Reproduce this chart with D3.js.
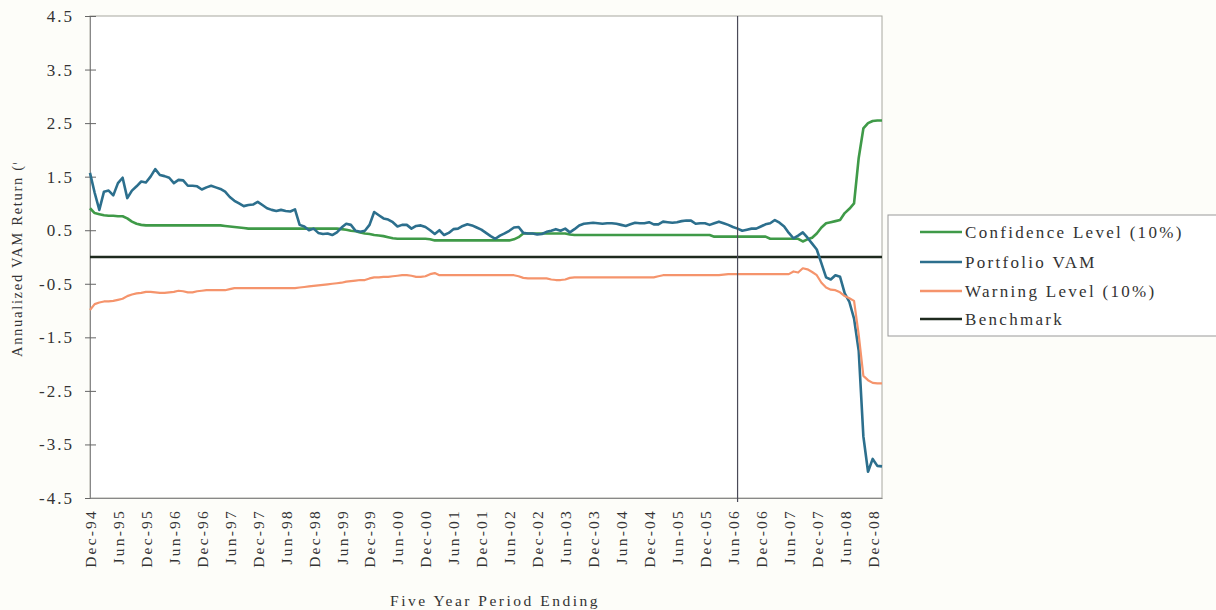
<!DOCTYPE html>
<head>
  <meta charset="utf-8">
  <script src="https://cdn.jsdelivr.net/npm/d3@7"></script>
  <style>
    body { margin: 0; background: #fdfdf9; }
    text { font-family: "Liberation Serif", "Times New Roman", serif; fill: #333; }
  </style>
</head>
<body>
  <div id="chartDiv"></div>
  <script>

  // monthly points, Dec-94 .. Feb-09
  var monthFmt = d3.timeFormat("%b-%y");
  var categories = d3.timeMonth.range(new Date(1994, 11, 1), new Date(2009, 2, 1)).map(monthFmt);

  var xTickLabels = ["Dec-94","Jun-95","Dec-95","Jun-96","Dec-96","Jun-97","Dec-97","Jun-98",
    "Dec-98","Jun-99","Dec-99","Jun-00","Dec-00","Jun-01","Dec-01","Jun-02","Dec-02","Jun-03",
    "Dec-03","Jun-04","Dec-04","Jun-05","Dec-05","Jun-06","Dec-06","Jun-07","Dec-07","Jun-08","Dec-08"];

  var yTickValues = [4.5, 3.5, 2.5, 1.5, 0.5, -0.5, -1.5, -2.5, -3.5, -4.5];

  var seriesNames = ["Confidence Level (10%)", "Portfolio VAM", "Warning Level (10%)", "Benchmark"];

  var confidenceLevel = [
    0.91, 0.82, 0.80, 0.78, 0.77, 0.77, 0.76, 0.76, 0.72, 0.66,
    0.62, 0.60, 0.59, 0.59, 0.59, 0.59, 0.59, 0.59, 0.59, 0.59,
    0.59, 0.59, 0.59, 0.59, 0.59, 0.59, 0.59, 0.59, 0.59, 0.58,
    0.57, 0.56, 0.55, 0.54, 0.53, 0.53, 0.53, 0.53, 0.53, 0.53,
    0.53, 0.53, 0.53, 0.53, 0.53, 0.53, 0.53, 0.53, 0.53, 0.53,
    0.53, 0.53, 0.53, 0.53, 0.52, 0.51, 0.49, 0.48, 0.46, 0.44,
    0.43, 0.41, 0.40, 0.39, 0.37, 0.35, 0.34, 0.34, 0.34, 0.34,
    0.34, 0.34, 0.34, 0.33, 0.31, 0.31, 0.31, 0.31, 0.31, 0.31,
    0.31, 0.31, 0.31, 0.31, 0.31, 0.31, 0.31, 0.31, 0.31, 0.31,
    0.31, 0.33, 0.37, 0.44, 0.44, 0.44, 0.44, 0.44, 0.44, 0.44,
    0.44, 0.44, 0.44, 0.42, 0.41, 0.41, 0.41, 0.41, 0.41, 0.41,
    0.41, 0.41, 0.41, 0.41, 0.41, 0.41, 0.41, 0.41, 0.41, 0.41,
    0.41, 0.41, 0.41, 0.41, 0.41, 0.41, 0.41, 0.41, 0.41, 0.41,
    0.41, 0.41, 0.41, 0.41, 0.38, 0.38, 0.38, 0.38, 0.38, 0.38,
    0.38, 0.38, 0.38, 0.38, 0.38, 0.38, 0.34, 0.34, 0.34, 0.34,
    0.34, 0.34, 0.34, 0.29, 0.33, 0.36, 0.44, 0.55, 0.63, 0.65,
    0.67, 0.69, 0.82, 0.90, 1.00, 1.85, 2.40, 2.50, 2.54, 2.55,
    2.55
  ];

  var portfolioVam = [
    1.57, 1.20, 0.88, 1.22, 1.24, 1.15, 1.38, 1.48, 1.10, 1.24,
    1.32, 1.41, 1.39, 1.50, 1.64, 1.53, 1.51, 1.48, 1.38, 1.44,
    1.43, 1.33, 1.33, 1.32, 1.26, 1.30, 1.33, 1.30, 1.27, 1.22,
    1.12, 1.05, 1.00, 0.95, 0.97, 0.98, 1.03, 0.97, 0.91, 0.88,
    0.86, 0.88, 0.86, 0.85, 0.89, 0.60, 0.57, 0.50, 0.53, 0.45,
    0.43, 0.44, 0.41, 0.46, 0.55, 0.62, 0.60, 0.49, 0.47, 0.49,
    0.60, 0.84, 0.78, 0.72, 0.70, 0.65, 0.57, 0.60, 0.60, 0.53,
    0.58, 0.59, 0.56, 0.50, 0.43, 0.50, 0.41, 0.45, 0.52, 0.53,
    0.58, 0.61, 0.59, 0.55, 0.51, 0.45, 0.39, 0.34, 0.40, 0.44,
    0.49, 0.55, 0.56, 0.45, 0.44, 0.44, 0.42, 0.43, 0.47, 0.49,
    0.52, 0.49, 0.53, 0.46, 0.52, 0.59, 0.62, 0.63, 0.64, 0.63,
    0.62, 0.63, 0.63, 0.62, 0.60, 0.58, 0.61, 0.64, 0.63, 0.63,
    0.65, 0.61, 0.61, 0.66, 0.65, 0.64, 0.65, 0.67, 0.68, 0.68,
    0.62, 0.63, 0.63, 0.60, 0.63, 0.66, 0.63, 0.60, 0.56, 0.53,
    0.49, 0.51, 0.53, 0.53, 0.57, 0.61, 0.63, 0.69, 0.64, 0.57,
    0.45, 0.35, 0.40, 0.46, 0.36, 0.25, 0.14, -0.12, -0.38, -0.42,
    -0.34, -0.37, -0.68, -0.84, -1.15, -1.75, -3.35, -4.01, -3.77, -3.90,
    -3.91
  ];

  var warningLevel = [
    -0.99, -0.88, -0.85, -0.83, -0.83, -0.82, -0.80, -0.78, -0.73, -0.70,
    -0.68, -0.67, -0.65, -0.65, -0.66, -0.67, -0.67, -0.66, -0.65, -0.63,
    -0.64, -0.66, -0.66, -0.64, -0.63, -0.62, -0.62, -0.62, -0.62, -0.62,
    -0.60, -0.58, -0.58, -0.58, -0.58, -0.58, -0.58, -0.58, -0.58, -0.58,
    -0.58, -0.58, -0.58, -0.58, -0.58, -0.57, -0.56, -0.55, -0.54, -0.53,
    -0.52, -0.51, -0.50, -0.49, -0.48, -0.46, -0.45, -0.44, -0.43, -0.43,
    -0.40, -0.38, -0.38, -0.37, -0.37, -0.36, -0.35, -0.34, -0.34, -0.35,
    -0.37, -0.37, -0.36, -0.32, -0.30, -0.34, -0.34, -0.34, -0.34, -0.34,
    -0.34, -0.34, -0.34, -0.34, -0.34, -0.34, -0.34, -0.34, -0.34, -0.34,
    -0.34, -0.34, -0.36, -0.39, -0.40, -0.40, -0.40, -0.40, -0.40, -0.42,
    -0.43, -0.43, -0.42, -0.39, -0.38, -0.38, -0.38, -0.38, -0.38, -0.38,
    -0.38, -0.38, -0.38, -0.38, -0.38, -0.38, -0.38, -0.38, -0.38, -0.38,
    -0.38, -0.38, -0.36, -0.34, -0.34, -0.34, -0.34, -0.34, -0.34, -0.34,
    -0.34, -0.34, -0.34, -0.34, -0.34, -0.34, -0.33, -0.32, -0.32, -0.32,
    -0.32, -0.32, -0.32, -0.32, -0.32, -0.32, -0.32, -0.32, -0.32, -0.32,
    -0.32, -0.27, -0.29, -0.21, -0.23, -0.28, -0.34, -0.48, -0.57, -0.61,
    -0.62, -0.66, -0.73, -0.77, -0.82, -1.45, -2.22, -2.30, -2.35, -2.36,
    -2.36
  ];

  var benchmarkLevel = 0;
  var markerMonth = "Jul-06";

  var colors = ["#3f9a48", "#2c6f8d", "#f5946c", "#1e2a1e"];

  var width = 1216;
  var height = 610;

  var svg = d3.select("#chartDiv").append("svg")
    .attr("width", width)
    .attr("height", height);

  var x = d3.scalePoint()
    .domain(categories)
    .range([90, 882]);

  var y = d3.scaleLinear()
    .domain([-4.5, 4.5])
    .range([498, 16]);

  // plot frame
  svg.append("rect")
    .attr("x", 90)
    .attr("y", 16)
    .attr("width", 792)
    .attr("height", 482)
    .style("fill", "white")
    .style("stroke", "#a8a8a0")
    .style("stroke-width", 1);

  // y axis
  var yAxis = svg.append("g")
    .attr("transform", "translate(90,0)")
    .call(d3.axisLeft(y).tickValues(yTickValues)
      .tickFormat(function(d) { return d.toFixed(1); })
      .tickSize(5));

  yAxis.select(".domain").style("stroke", "#888");
  yAxis.selectAll(".tick line").attr("x1", 6).style("stroke", "#666");
  yAxis.selectAll(".tick text")
    .attr("x", -16)
    .style("font-family", "Liberation Serif, serif")
    .style("font-size", "17px")
    .style("letter-spacing", "2px")
    .style("fill", "#333");

  // x axis
  var xAxis = svg.append("g")
    .attr("transform", "translate(0,498)")
    .call(d3.axisBottom(x).tickValues(xTickLabels).tickSize(0));

  xAxis.select(".domain").style("stroke", "#888");
  xAxis.selectAll(".tick text")
    .attr("transform", "rotate(-90)")
    .attr("x", -11)
    .attr("y", 0)
    .attr("dy", "0.35em")
    .style("text-anchor", "end")
    .style("font-family", "Liberation Serif, serif")
    .style("font-size", "15.5px")
    .style("letter-spacing", "2.2px")
    .style("fill", "#333");

  // axis titles (y title is cut off at the top in the source)
  svg.append("clipPath")
    .attr("id", "titleClip")
    .append("rect")
    .attr("x", 0).attr("y", 163).attr("width", 40).attr("height", 300);

  svg.append("g")
    .attr("clip-path", "url(#titleClip)")
    .append("text")
    .attr("transform", "translate(22,357) rotate(-90)")
    .style("font-size", "14.5px")
    .style("letter-spacing", "1.7px")
    .text("Annualized VAM Return (%)");

  svg.append("text")
    .attr("x", 495)
    .attr("y", 606)
    .style("text-anchor", "middle")
    .style("font-size", "15.5px")
    .style("letter-spacing", "2.5px")
    .text("Five Year Period Ending");

  // series
  var line = d3.line()
    .x(function(d, i) { return x(categories[i]); })
    .y(function(d) { return y(d); });

  var lineData = [confidenceLevel, portfolioVam, warningLevel];
  var lineWidths = [2.6, 2.6, 2.2];

  svg.append("line")
    .attr("x1", x(categories[0]))
    .attr("x2", x(categories[categories.length - 1]))
    .attr("y1", y(benchmarkLevel))
    .attr("y2", y(benchmarkLevel))
    .style("stroke", colors[3])
    .style("stroke-width", 2.6);

  svg.selectAll(".series")
    .data(lineData)
    .enter()
    .append("path")
    .attr("class", "series")
    .attr("d", line)
    .style("fill", "none")
    .style("stroke", function(d, i) { return colors[i]; })
    .style("stroke-width", function(d, i) { return lineWidths[i]; })
    .style("stroke-linejoin", "round");

  // marker line
  svg.append("line")
    .attr("x1", x(markerMonth))
    .attr("x2", x(markerMonth))
    .attr("y1", 16)
    .attr("y2", 502)
    .style("stroke", "#4a4a58")
    .style("stroke-width", 1.2);

  // legend
  var legend = svg.append("g");

  legend.append("rect")
    .attr("x", 888)
    .attr("y", 215)
    .attr("width", 340)
    .attr("height", 121)
    .style("fill", "white")
    .style("stroke", "#999")
    .style("stroke-width", 1);

  var legendRows = [232, 262, 291, 319];

  seriesNames.forEach(function(name, i) {
    legend.append("line")
      .attr("x1", 920)
      .attr("x2", 962)
      .attr("y1", legendRows[i])
      .attr("y2", legendRows[i])
      .style("stroke", colors[i])
      .style("stroke-width", 2.6);

    legend.append("text")
      .attr("x", 965)
      .attr("y", legendRows[i])
      .attr("dy", "0.35em")
      .style("font-size", "17px")
      .style("letter-spacing", "2.3px")
      .text(name);
  });

  </script>
</body>
